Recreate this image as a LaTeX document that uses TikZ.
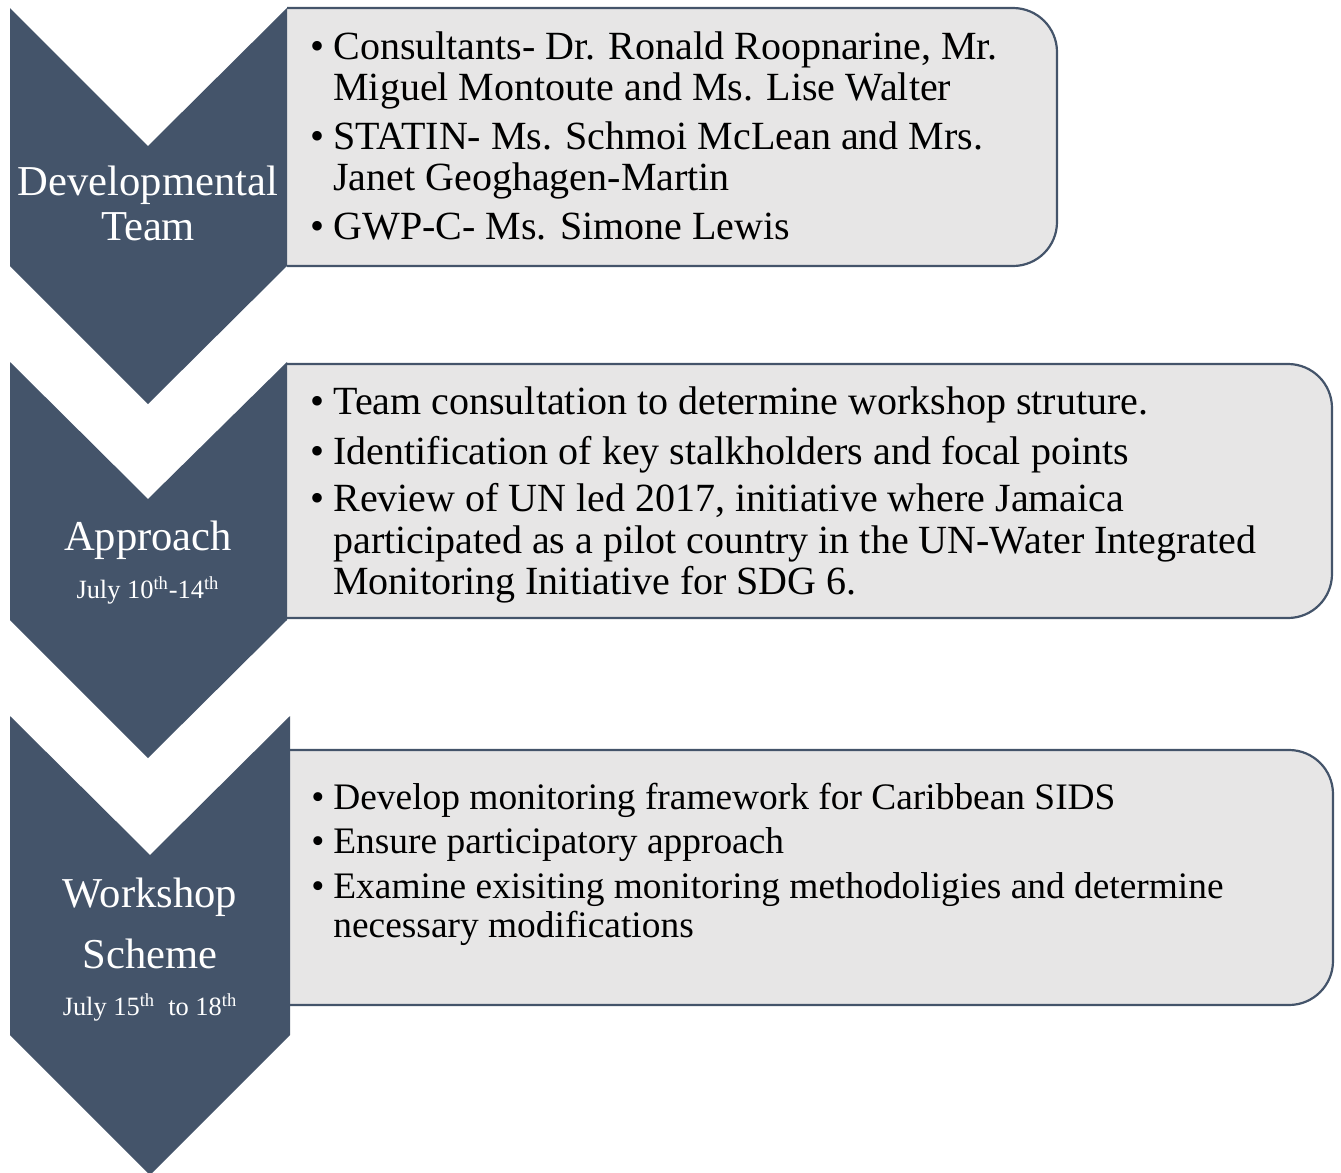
\documentclass[tikz,border=0pt]{standalone}
\usepackage{fontspec}
\setmainfont{Liberation Serif}
\definecolor{slate}{HTML}{44546A}
\definecolor{boxgrey}{HTML}{E7E6E6}
\begin{document}
\begin{tikzpicture}[x=0.5pt,y=-0.5pt,
  chev/.style={fill=slate},
  infobox/.style={fill=boxgrey,draw=slate,line width=1.1pt,rounded corners=22pt},
  txt/.style={anchor=base west,inner sep=0pt,font=\fontsize{20}{24}\selectfont,text=black},
  txtsmall/.style={txt,font=\fontsize{18.7}{22}\selectfont},
  lbl/.style={anchor=base,inner sep=0pt,font=\fontsize{21.3}{25}\selectfont,text=white},
  datelbl/.style={anchor=base,inner sep=0pt,font=\fontsize{13.2}{16}\selectfont,text=white}]
\newcommand{\bul}{\llap{\textbullet\hspace{4.5pt}}}
\useasboundingbox (0,0) rectangle (1341,1173);
% boxes
\begin{scope}
\clip (287,0) rectangle (1341,1173);
\draw[infobox] (240,8) rectangle (1057,266);
\draw[infobox] (240,364) rectangle (1332,618);
\draw[infobox] (240,750) rectangle (1333,1005);
\end{scope}
% chevrons
\fill[chev] (10,8) -- (148,146) -- (287,8) -- (287,266) -- (148,404) -- (10,266) -- cycle;
\fill[chev] (10,362) -- (148,499) -- (287,362) -- (287,620) -- (148,758) -- (10,620) -- cycle;
\fill[chev] (10,716) -- (150,855) -- (290,716) -- (290,1035) -- (150,1175) -- (10,1035) -- cycle;
% labels
\node[lbl] (l1a) at (148,195) {Developmental};
\node[lbl] (l1b) at (148,240) {Team};
\node[lbl] (l2a) at (148,550) {Approach};
\node[datelbl] (l2b) at (148,598) {July 10\textsuperscript{th}-14\textsuperscript{th}};
\node[lbl] (l3a) at (150,907) {Workshop};
\node[lbl] (l3b) at (150,968) {Scheme};
\node[datelbl] (l3c) at (150,1015) {July 15\textsuperscript{th}\ \ to 18\textsuperscript{th}};
% box 1 text
\node[txt] (t11) at (333,59) {\bul Consultants- Dr. Ronald Roopnarine, Mr.};
\node[txt] (t12) at (333,100) {Miguel Montoute and Ms. Lise Walter};
\node[txt] (t13) at (333,149) {\bul STATIN- Ms. Schmoi McLean and Mrs.};
\node[txt] (t14) at (333,190) {Janet Geoghagen-Martin};
\node[txt] (t15) at (333,239) {\bul GWP-C- Ms. Simone Lewis};
% box 2 text
\node[txt] (t21) at (333,414) {\bul Team consultation to determine workshop struture.};
\node[txt] (t22) at (333,464) {\bul Identification of key stalkholders and focal points};
\node[txt] (t23) at (333,511) {\bul Review of UN led 2017, initiative where Jamaica};
\node[txt] (t24) at (333,553) {participated as a pilot country in the UN-Water Integrated};
\node[txt] (t25) at (333,594) {Monitoring Initiative for SDG 6.};
% box 3 text
\node[txtsmall] (t31) at (333,809) {\bul Develop monitoring framework for Caribbean SIDS};
\node[txtsmall] (t32) at (333,853) {\bul Ensure participatory approach};
\node[txtsmall] (t33) at (333,898) {\bul Examine exisiting monitoring methodoligies and determine};
\node[txtsmall] (t34) at (333,937) {necessary modifications};
\end{tikzpicture}
\end{document}
